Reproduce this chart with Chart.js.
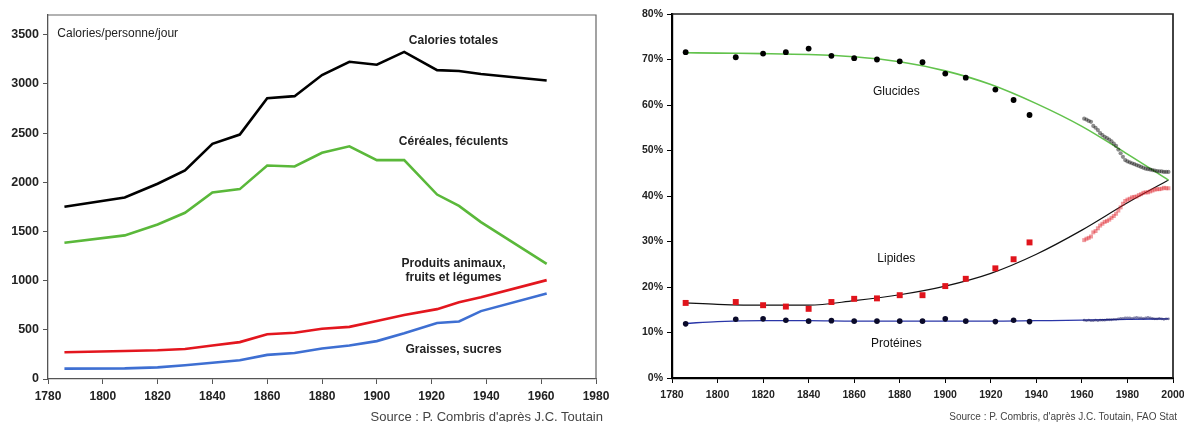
<!DOCTYPE html>
<html lang="fr">
<head>
<meta charset="utf-8">
<title>Calories et nutriments</title>
<script src="https://cdn.jsdelivr.net/npm/chart.js@4.4.0/dist/chart.umd.min.js"></script>
<style>
  body { margin: 0; background: #fff; font-family: "Liberation Sans", Arial, sans-serif; }
  #wrap { position: relative; width: 1184px; height: 422px; overflow: hidden; }
  canvas { position: absolute; top: 0; }
  #leftChart { left: 0; }
  #rightChart { left: 610px; }
  .source { position: absolute; color: #444; white-space: nowrap; }
</style>
</head>
<body>
<div id="wrap">
  <canvas id="leftChart" width="610" height="422"></canvas>
  <canvas id="rightChart" width="574" height="422"></canvas>
  <div class="source" id="srcLeft" style="right: 581px; top: 409px; font-size: 13px;">Source : P. Combris d'après J.C. Toutain</div>
  <div class="source" id="srcRight" style="right: 7px; top: 411px; font-size: 10px;">Source : P. Combris, d'après J.C. Toutain, FAO Stat</div>
</div>
<script>
// left chart: calories per person per day
const leftYears = [1786, 1808, 1820, 1830, 1840, 1850, 1860, 1870, 1880, 1890, 1900, 1910, 1922, 1930, 1938, 1962];
const caloriesTotales = [1750, 1845, 1985, 2120, 2390, 2485, 2855, 2875, 3090, 3225, 3195, 3325, 3140, 3130, 3100, 3035];
const cereales = [1385, 1460, 1570, 1690, 1895, 1930, 2170, 2160, 2300, 2365, 2225, 2225, 1875, 1760, 1595, 1170];
const produitsAnimaux = [272, 285, 292, 305, 340, 375, 455, 470, 510, 530, 590, 650, 710, 780, 830, 1005];
const graissesSucres = [105, 108, 118, 140, 165, 190, 245, 265, 310, 340, 385, 465, 570, 585, 690, 870];
const leftXTicks = [1780, 1800, 1820, 1840, 1860, 1880, 1900, 1920, 1940, 1960, 1980];
const leftYTicks = [0, 500, 1000, 1500, 2000, 2500, 3000, 3500];

// right chart: share of energy (%)
const histYears = [1786, 1808, 1820, 1830, 1840, 1850, 1860, 1870, 1880, 1890, 1900, 1909, 1922, 1930, 1937];
const glucides = [71.6, 70.5, 71.3, 71.6, 72.4, 70.8, 70.3, 70.0, 69.6, 69.4, 66.9, 66.0, 63.4, 61.1, 57.8];
const lipides = [16.5, 16.7, 16.0, 15.7, 15.2, 16.7, 17.4, 17.5, 18.2, 18.2, 20.2, 21.8, 24.1, 26.1, 29.8];
const proteines = [11.9, 12.9, 13.0, 12.7, 12.5, 12.6, 12.5, 12.5, 12.5, 12.5, 13.0, 12.5, 12.4, 12.7, 12.4];

const faoYears = [1961, 1962, 1963, 1964, 1965, 1966, 1967, 1968, 1969, 1970, 1971, 1972, 1973, 1974, 1975, 1976, 1977, 1978, 1979,
  1980, 1981, 1982, 1983, 1984, 1985, 1986, 1987, 1988, 1989, 1990, 1991, 1992, 1993, 1994, 1995, 1996, 1997, 1998];
const glucidesFao = [57.0, 56.8, 56.5, 56.3, 55.4, 55.0, 54.5, 53.8, 53.4, 53.0, 52.7, 52.4, 52.0, 51.5, 51.0, 50.2, 49.4, 48.6, 47.9,
  47.6, 47.4, 47.2, 47.0, 46.8, 46.6, 46.4, 46.2, 46.0, 45.9, 45.8, 45.7, 45.6, 45.5, 45.4, 45.4, 45.3, 45.3, 45.3];
const lipidesFao = [30.3, 30.6, 30.8, 31.1, 32.0, 32.3, 32.9, 33.5, 33.9, 34.3, 34.5, 34.8, 35.2, 35.6, 36.1, 36.8, 37.5, 38.3, 38.9,
  39.2, 39.4, 39.7, 39.8, 39.9, 40.2, 40.4, 40.7, 40.8, 40.8, 41.0, 41.2, 41.4, 41.5, 41.5, 41.6, 41.8, 41.7, 41.7];
const proteinesFao = [12.7, 12.6, 12.7, 12.6, 12.6, 12.7, 12.6, 12.7, 12.7, 12.7, 12.8, 12.8, 12.8, 12.9, 12.9, 13.0, 13.1, 13.1, 13.2,
  13.2, 13.2, 13.1, 13.2, 13.3, 13.2, 13.2, 13.1, 13.2, 13.3, 13.2, 13.1, 13.0, 13.0, 13.1, 13.0, 12.9, 13.0, 13.0];

// trend curves
const fitYears = [1786, 1800, 1820, 1840, 1860, 1880, 1900, 1920, 1940, 1960, 1980, 1998];
const glucidesFit = [71.5, 71.4, 71.3, 71.1, 70.6, 69.5, 67.5, 64.5, 60.3, 55.3, 49.2, 43.5];
const lipidesFit = [16.5, 16.2, 16.0, 16.0, 17.0, 18.3, 20.2, 23.0, 27.2, 32.5, 38.5, 43.5];
const proteinesFit = [12.0, 12.4, 12.6, 12.6, 12.5, 12.5, 12.5, 12.5, 12.6, 12.7, 12.9, 13.0];
const rightXTicks = [1780, 1800, 1820, 1840, 1860, 1880, 1900, 1920, 1940, 1960, 1980, 2000];
const rightYTicks = [0, 10, 20, 30, 40, 50, 60, 70, 80];

function pts(xs, ys) {
  return xs.map((x, i) => ({ x: x, y: ys[i] }));
}

function fixedTicks(list) {
  return (scale) => { scale.ticks = list.map((v) => ({ value: v })); };
}

// frame on top/right + text notes placed in data units
function decor(frameColor, frameWidth, notes) {
  return {
    id: "decor",
    afterDatasetsDraw(chart) {
      const { ctx, chartArea: a, scales } = chart;
      ctx.save();
      ctx.strokeStyle = frameColor;
      ctx.lineWidth = frameWidth;
      ctx.beginPath();
      ctx.moveTo(a.left, a.top);
      ctx.lineTo(a.right, a.top);
      ctx.lineTo(a.right, a.bottom);
      ctx.stroke();
      notes.forEach((n) => {
        ctx.font = n.font;
        ctx.fillStyle = n.color || "#222";
        ctx.textAlign = n.align || "center";
        ctx.textBaseline = "middle";
        ctx.fillText(n.text, scales.x.getPixelForValue(n.x), scales.y.getPixelForValue(n.y));
      });
      ctx.restore();
    },
  };
}

const leftNotes = [
  { text: "Calories/personne/jour", x: 1783.4, y: 3505, align: "left", font: "12px 'Liberation Sans', Arial" },
  { text: "Calories totales", x: 1928, y: 3435, font: "bold 12px 'Liberation Sans', Arial" },
  { text: "Céréales, féculents", x: 1928, y: 2415, font: "bold 12px 'Liberation Sans', Arial" },
  { text: "Produits animaux,", x: 1928, y: 1170, font: "bold 12px 'Liberation Sans', Arial" },
  { text: "fruits et légumes", x: 1928, y: 1027, font: "bold 12px 'Liberation Sans', Arial" },
  { text: "Graisses, sucres", x: 1928, y: 303, font: "bold 12px 'Liberation Sans', Arial" },
];

const rightNotes = [
  { text: "Glucides", x: 1878.5, y: 62.9, font: "12px 'Liberation Sans', Arial", color: "#111" },
  { text: "Lipides", x: 1878.5, y: 26.2, font: "12px 'Liberation Sans', Arial", color: "#111" },
  { text: "Protéines", x: 1878.5, y: 7.5, font: "12px 'Liberation Sans', Arial", color: "#111" },
];

function lineSet(label, ys, color) {
  return {
    label: label,
    data: pts(leftYears, ys),
    showLine: true,
    borderColor: color,
    backgroundColor: color,
    borderWidth: 2.6,
    pointRadius: 0,
    tension: 0,
  };
}

new Chart(document.getElementById("leftChart"), {
  type: "scatter",
  data: {
    datasets: [
      lineSet("Calories totales", caloriesTotales, "#000000"),
      lineSet("Céréales, féculents", cereales, "#5ab83a"),
      lineSet("Produits animaux, fruits et légumes", produitsAnimaux, "#e3161e"),
      lineSet("Graisses, sucres", graissesSucres, "#3e6fd2"),
    ],
  },
  options: {
    responsive: false,
    animation: false,
    layout: { padding: { left: 0, right: 14, top: 15, bottom: 0 } },
    plugins: { legend: { display: false }, tooltip: { enabled: false } },
    scales: {
      x: {
        type: "linear",
        min: 1780,
        max: 1980,
        afterBuildTicks: fixedTicks(leftXTicks),
        afterFit: (s) => { s.height = 43; s.paddingLeft = 0; s.paddingRight = 0; },
        grid: { drawOnChartArea: false, tickLength: 5, color: "#555" },
        border: { color: "#555", width: 1.3 },
        ticks: {
          padding: 5,
          color: "#222",
          font: { family: "'Liberation Sans', Arial", size: 12, weight: "bold" },
          callback: (v) => String(v),
        },
      },
      y: {
        min: 0,
        max: 3700,
        afterBuildTicks: fixedTicks(leftYTicks),
        afterFit: (s) => { s.width = 48; },
        grid: { drawOnChartArea: false, tickLength: 5, color: "#555" },
        border: { color: "#555", width: 1.3 },
        ticks: {
          padding: 4,
          color: "#222",
          font: { family: "'Liberation Sans', Arial", size: 12.5, weight: "bold" },
          callback: (v) => String(v),
        },
      },
    },
  },
  plugins: [decor("#666", 1.2, leftNotes)],
});

function marks(label, xs, ys, opts) {
  return Object.assign({
    label: label,
    data: pts(xs, ys),
    showLine: false,
    order: 0,
    pointBorderWidth: 0,
  }, opts);
}

function fit(label, ys, color, width) {
  return {
    label: label,
    data: pts(fitYears, ys),
    showLine: true,
    borderColor: color,
    borderWidth: width,
    pointRadius: 0,
    cubicInterpolationMode: "monotone",
    order: 1,
  };
}

new Chart(document.getElementById("rightChart"), {
  type: "scatter",
  data: {
    datasets: [
      marks("Glucides", histYears, glucides, { pointRadius: 2.9, backgroundColor: "#000", borderColor: "#000" }),
      marks("Glucides FAO", faoYears, glucidesFao, { pointRadius: 2.1, backgroundColor: "rgba(0,0,0,0.45)", borderColor: "rgba(0,0,0,0.45)" }),
      marks("Lipides", histYears, lipides, { pointStyle: "rect", pointRadius: 4.2, backgroundColor: "#e0141c", borderColor: "#e0141c" }),
      marks("Lipides FAO", faoYears, lipidesFao, { pointStyle: "rect", pointRadius: 2.8, backgroundColor: "rgba(222,30,40,0.45)", borderColor: "rgba(222,30,40,0.45)" }),
      marks("Protéines", histYears, proteines, { pointRadius: 2.8, backgroundColor: "#0a0a2a", borderColor: "#0a0a2a" }),
      marks("Protéines FAO", faoYears, proteinesFao, { pointRadius: 1.4, backgroundColor: "rgba(20,20,90,0.5)", borderColor: "rgba(20,20,90,0.5)" }),
      fit("Glucides (tendance)", glucidesFit, "#62c24c", 1.6),
      fit("Lipides (tendance)", lipidesFit, "#111111", 1.2),
      fit("Protéines (tendance)", proteinesFit, "#2a36a8", 1.3),
    ],
  },
  options: {
    responsive: false,
    animation: false,
    layout: { padding: { left: 0, right: 11, top: 14, bottom: 0 } },
    plugins: { legend: { display: false }, tooltip: { enabled: false } },
    scales: {
      x: {
        type: "linear",
        min: 1780,
        max: 2000,
        afterBuildTicks: fixedTicks(rightXTicks),
        afterFit: (s) => { s.height = 44; s.paddingLeft = 0; s.paddingRight = 0; },
        grid: { drawOnChartArea: false, tickLength: 5, color: "#000" },
        border: { color: "#000", width: 2.2 },
        ticks: {
          padding: 6,
          color: "#222",
          font: { family: "'Liberation Sans', Arial", size: 10.5, weight: "bold" },
          callback: (v) => String(v),
        },
      },
      y: {
        min: 0,
        max: 80,
        afterBuildTicks: fixedTicks(rightYTicks),
        afterFit: (s) => { s.width = 62; },
        grid: { drawOnChartArea: false, tickLength: 5, color: "#000" },
        border: { color: "#000", width: 2.2 },
        ticks: {
          padding: 4,
          color: "#222",
          font: { family: "'Liberation Sans', Arial", size: 10.5, weight: "bold" },
          callback: (v) => v + "%",
        },
      },
    },
  },
  plugins: [decor("#222", 1.7, rightNotes)],
});
</script>
</body>
</html>
